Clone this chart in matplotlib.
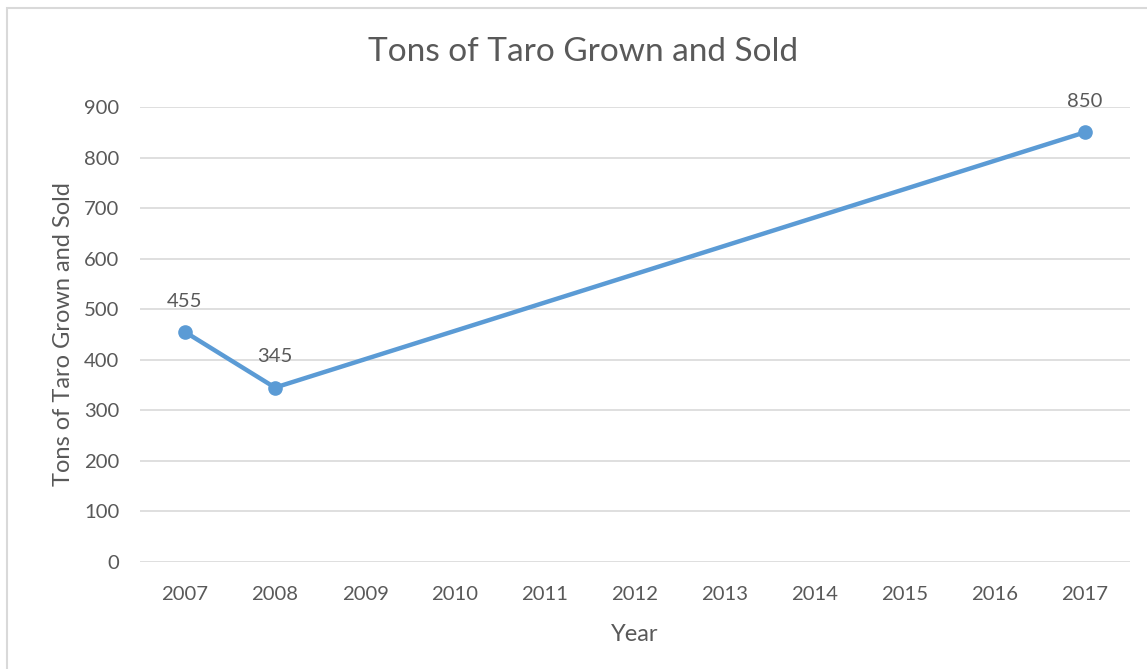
import matplotlib
matplotlib.use("Agg")
import matplotlib.pyplot as plt
from matplotlib.patches import Rectangle

years = [2007, 2008, 2017]
tons = [455, 345, 850]
tick_years = list(range(2007, 2018))
y_ticks = list(range(0, 1000, 100))

title = "Tons of Taro Grown and Sold"
xlabel = "Year"
ylabel = "Tons of Taro Grown and Sold"

plt.rcParams['font.family'] = ['Lato', 'DejaVu Sans']
txt = '#595959'
line_c = '#5B9BD5'

fig = plt.figure(figsize=(11.47, 6.69), dpi=100)
fig.patches.append(Rectangle((7/1147, -0.1), 1.2, (669-8)/669 + 0.1, transform=fig.transFigure,
                             fill=False, edgecolor='#D9D9D9', linewidth=1.5))
ax = fig.add_axes([140/1147, (669-562)/669, 990/1147, 455/669])
ax.set_xlim(2006.5, 2017.5)
ax.set_ylim(0, 900)
ax.set_yticks(y_ticks)
ax.set_xticks(tick_years)
ax.grid(axis='y', color='#D9D9D9', linewidth=1.2)
ax.set_axisbelow(True)
for s in ax.spines.values():
    s.set_visible(False)
ax.tick_params(length=0, colors=txt, labelsize=14.6)
ax.tick_params(axis='x', pad=17.5)
ax.tick_params(axis='y', pad=15)
ax.plot(years, tons, color=line_c, linewidth=3.2, marker='o', markersize=9.5, solid_capstyle='round')
for x, y in zip(years, tons):
    ax.annotate(str(y), (x, y), xytext=(0, 16), textcoords='offset points', ha='center', va='bottom',
                color=txt, fontsize=14.6)
for ln in ax.lines:
    ln.set_clip_on(False)
ax.set_xlabel(xlabel, color=txt, fontsize=17, labelpad=15)
ax.set_ylabel(ylabel, color=txt, fontsize=17, labelpad=7)
fig.text(583/1147, 1 - 52/669, title, ha='center', va='center', color=txt, fontsize=24)
fig.savefig('out.png', dpi=100)
